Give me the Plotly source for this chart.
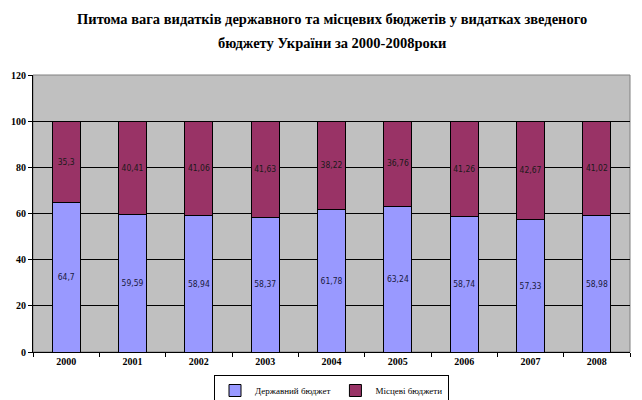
import plotly.graph_objects as go

years = ["2000", "2001", "2002", "2003", "2004", "2005", "2006", "2007", "2008"]
state_budget = [64.7, 59.59, 58.94, 58.37, 61.78, 63.24, 58.74, 57.33, 58.98]
local_budgets = [35.3, 40.41, 41.06, 41.63, 38.22, 36.76, 41.26, 42.67, 41.02]

title_line1 = "Питома вага видатків державного та місцевих бюджетів у видатках зведеного"
title_line2 = "бюджету України за 2000-2008роки"

SERIF = "Liberation Serif, Times New Roman, DejaVu Serif, serif"
# the page puts the figure 8px in from the top-left corner, so size it to fit
FIG_W, FIG_H = 634, 392
MARGIN_L, MARGIN_R, MARGIN_T, MARGIN_B = 25, 12, 67, 48


def fmt(v):
    # comma as decimal separator, as in the source
    return f"{v:g}".replace(".", ",")


fig = go.Figure()

fig.add_trace(
    go.Bar(
        x=years,
        y=state_budget,
        name="Державний бюджет",
        marker=dict(color="#9999FF", line=dict(color="black", width=1)),
        text=[fmt(v) for v in state_budget],
        textposition="inside",
        insidetextanchor="middle",
        textfont=dict(family="DejaVu Sans Condensed, DejaVu Sans", size=9, color="#1a1a40"),
        textangle=0,
    )
)
fig.add_trace(
    go.Bar(
        x=years,
        y=local_budgets,
        name="Місцеві бюджети",
        marker=dict(color="#993366", line=dict(color="black", width=1)),
        text=[fmt(v) for v in local_budgets],
        textposition="inside",
        insidetextanchor="middle",
        textfont=dict(family="DejaVu Sans Condensed, DejaVu Sans", size=9, color="#1a1a1a"),
        textangle=0,
    )
)

plot_h = FIG_H - MARGIN_T - MARGIN_B


def px_to_paper(ypx):
    return 1 + (MARGIN_T - ypx) / plot_h


fig.update_layout(
    width=FIG_W,
    height=FIG_H,
    barmode="stack",
    bargap=0.58,
    paper_bgcolor="white",
    plot_bgcolor="#C0C0C0",
    margin=dict(l=MARGIN_L, r=MARGIN_R, t=MARGIN_T, b=MARGIN_B, autoexpand=False),
    font=dict(family=SERIF, color="black"),
    uniformtext=dict(minsize=8, mode="show"),
    legend=dict(
        orientation="h",
        traceorder="normal",
        x=0.5,
        xanchor="center",
        y=px_to_paper(367),
        yanchor="top",
        bordercolor="black",
        borderwidth=1,
        font=dict(family=SERIF, size=9),
        itemwidth=30,
    ),
    annotations=[
        dict(text="<b>" + title_line1 + "</b>", x=0.5, y=px_to_paper(11), xref="paper",
             yref="paper", yanchor="middle", showarrow=False, font=dict(family=SERIF, size=14.5)),
        dict(text="<b>" + title_line2 + "</b>", x=0.5, y=px_to_paper(35), xref="paper",
             yref="paper", yanchor="middle", showarrow=False, font=dict(family=SERIF, size=14.5)),
    ],
    shapes=[
        dict(type="rect", xref="paper", yref="paper", x0=0, x1=1, y0=0, y1=1,
             line=dict(color="#808080", width=1), layer="below"),
    ],
)

fig.update_xaxes(
    automargin=False,
    showline=True,
    linecolor="black",
    ticks="outside",
    tickson="boundaries",
    ticklen=4,
    tickcolor="black",
    tickfont=dict(family=SERIF, size=10),
    tickprefix="<b>",
    ticksuffix="</b>",
)
fig.update_yaxes(
    automargin=False,
    range=[0, 120],
    dtick=20,
    showline=True,
    linecolor="black",
    ticks="outside",
    ticklen=4,
    tickcolor="black",
    showgrid=True,
    gridcolor="black",
    gridwidth=1,
    zeroline=False,
    tickfont=dict(family=SERIF, size=10),
    tickprefix="<b>",
    ticksuffix="</b>",
)

fig.write_html("out.html")
